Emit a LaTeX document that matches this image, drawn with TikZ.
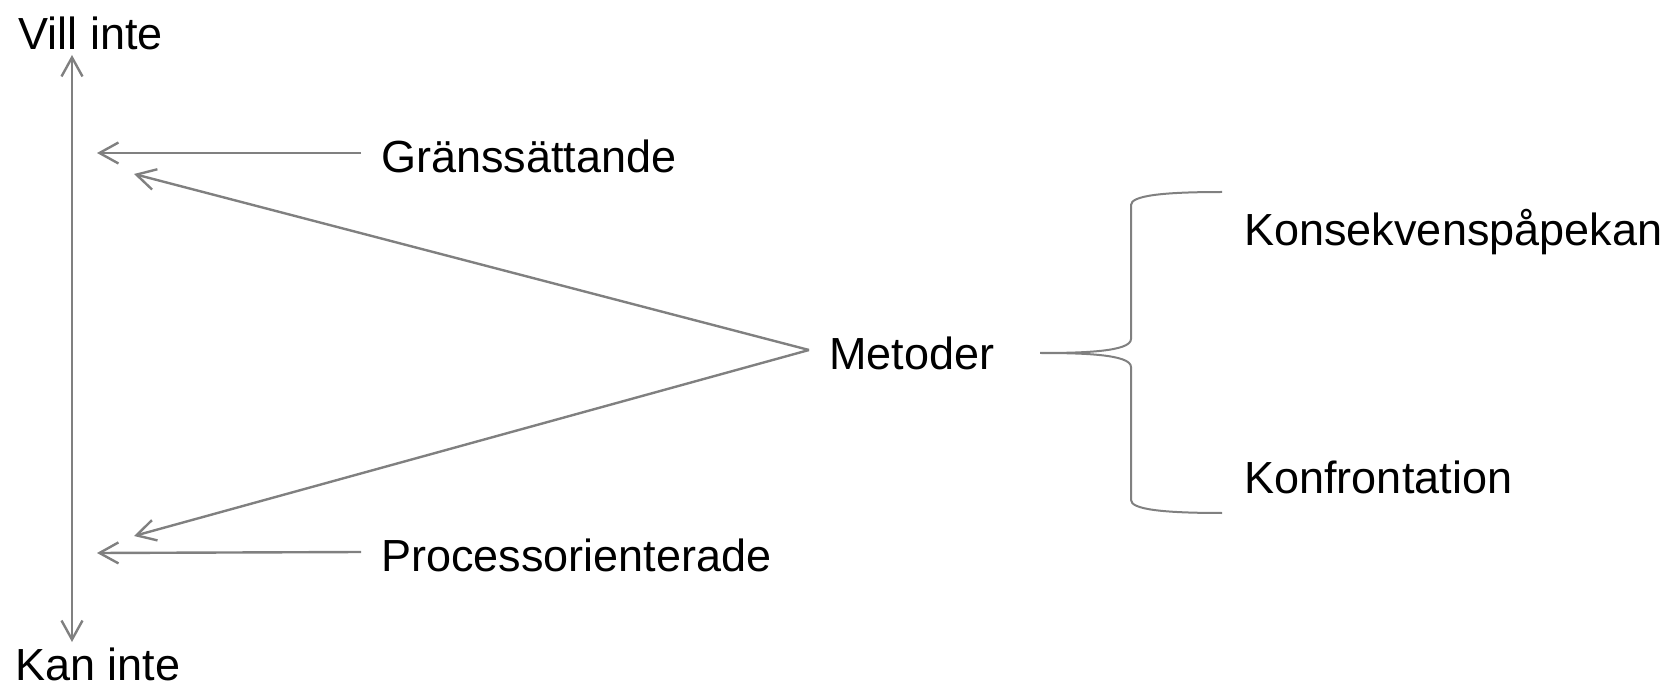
\documentclass[tikz,border=0pt]{standalone}
\usepackage{fontspec}
\setmainfont{Liberation Sans}
\usetikzlibrary{arrows.meta}
\definecolor{linegray}{RGB}{128,128,128}

\begin{document}
\begin{tikzpicture}[x=0.5pt,y=-0.5pt,
    lbl/.style={inner sep=0pt,inner xsep=10pt,text height=19.5pt,text depth=0pt,anchor=west,font=\fontsize{22.5}{27}\selectfont},
    conn/.style={draw=linegray,line width=1.2pt,-{Straight Barb[length=9.5pt,width=10.5pt]}}]
      \useasboundingbox (0,0) rectangle (1670,689);
      \node [lbl] (vill) at (-2,30) {Vill inte};
      \node [lbl] (kan) at (-5,661) {Kan inte};
      \node [lbl] (gr) at (361,153) {Gränssättande};
      \node [lbl] (pr) at (361,552) {Processorienterade};
      \node [lbl] (met) at (809,350) {Metoder};
      \node [lbl] (kons) at (1224,226) {Konsekvenspåpekan};
      \node [lbl] (konf) at (1224,474) {Konfrontation};
      \coordinate (axtop) at (72,55);
      \coordinate (axbot) at (72,642);
      \coordinate (grtip) at (97,153);
      \coordinate (prtip) at (97,553);
      \coordinate (uptip) at (134,174);
      \coordinate (lowtip) at (134,536);
      \draw [conn,{Straight Barb[length=9.5pt,width=10.5pt]}-{Straight Barb[length=9.5pt,width=10.5pt]}] (axtop) -- (axbot);
      \draw [conn] (gr.west) -- (grtip);
      \draw [conn] (pr.west) -- (prtip);
      \draw [conn] (met.west) -- (uptip);
      \draw [conn] (met.west) -- (lowtip);
      % brace
      \draw [linegray,line width=1pt] (1222,192) .. controls (1160,192) and (1131,196) .. (1131,205)
        -- (1131,339) .. controls (1131,352) and (1080,353) .. (1040,353)
        .. controls (1080,353) and (1131,354) .. (1131,367)
        -- (1131,500) .. controls (1131,509) and (1160,513) .. (1222,513);
\end{tikzpicture}
\end{document}
